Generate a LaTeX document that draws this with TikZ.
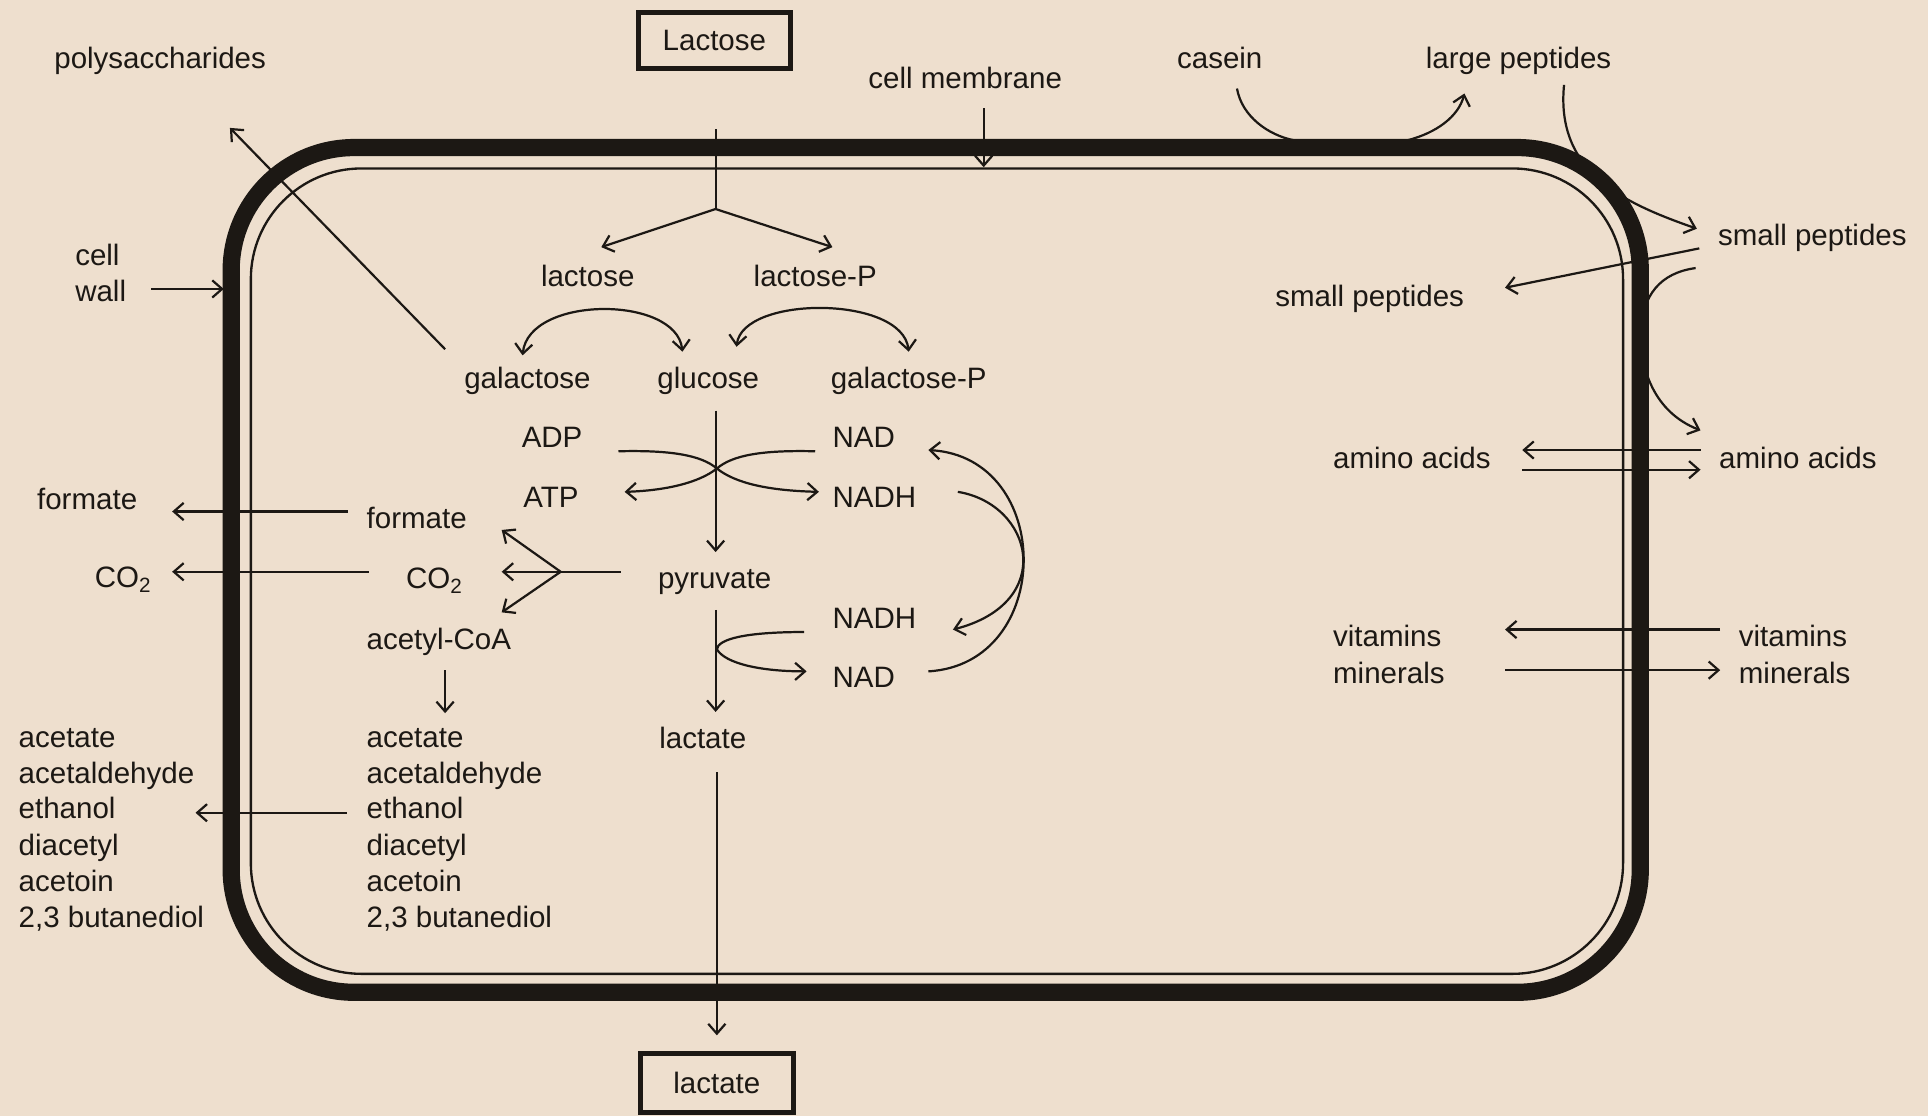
\documentclass[tikz,border=0pt]{standalone}
\usepackage{fontspec}
\setmainfont{Liberation Sans}
\usetikzlibrary{arrows.meta}
\definecolor{bg}{RGB}{238,223,206}
\definecolor{ink}{RGB}{28,24,20}
\begin{document}
\begin{tikzpicture}[x=1pt,y=-1pt,
  txt/.style={font=\fontsize{24}{28}\selectfont, inner sep=0pt, anchor=base, text=ink},
  txtl/.style={txt, anchor=base west},
  boxnode/.style={draw=ink, line width=4pt, minimum width=124pt, minimum height=46pt, inner sep=0pt, font=\fontsize{24}{28}\selectfont, text=ink},
  conn/.style={draw=ink, line width=1.8pt},
  arr/.style={conn, -{Straight Barb[length=8pt,width=14pt,line width=1.8pt]}},
  darr/.style={conn, {Straight Barb[length=8pt,width=14pt,line width=1.8pt]}-{Straight Barb[length=8pt,width=14pt,line width=1.8pt]}},
  wall/.style={draw=ink, line width=14pt, rounded corners=100pt},
  membrane/.style={draw=ink, line width=1.9pt, rounded corners=90pt}]

\fill[bg] (0,0) rectangle (1568,908);
\useasboundingbox (0,0) rectangle (1568,908);

% ---------- cell ----------
\draw[wall] (188,120) rectangle (1334,807);
\draw[membrane] (204,137) rectangle (1320,792);

% ---------- texts ----------
\node[txtl] (poly) at (44,56) {polysaccharides};
\node[boxnode] (LacBox) at (581,33) {Lactose};
\node[txt] (cmem) at (785,72) {cell membrane};
\node[txt] (casein) at (992,56) {casein};
\node[txt] (lpep) at (1235,56) {large peptides};
\node[txtl] (cell) at (61,216) {cell};
\node[txtl] (wall) at (61,245) {wall};
\node[txt] (lactose) at (478,233) {lactose};
\node[txt] (lactoseP) at (663,233) {lactose-P};
\node[txt] (galactose) at (429,316) {galactose};
\node[txt] (glucose) at (576,316) {glucose};
\node[txt] (galactoseP) at (739,316) {galactose-P};
\node[txt] (ADP) at (449,364) {ADP};
\node[txtl] (NADu) at (677,364) {NAD};
\node[txt] (ATP) at (448,413) {ATP};
\node[txtl] (NADHu) at (677,413) {NADH};
\node[txtl] (formOut) at (30,414) {formate};
\node[txtl] (formIn) at (298,430) {formate};
\node[txtl] (co2Out) at (77,478) {CO\textsubscript{2}};
\node[txtl] (co2In) at (330,479) {CO\textsubscript{2}};
\node[txtl] (pyruvate) at (535,479) {pyruvate};
\node[txtl] (acCoA) at (298,528) {acetyl-CoA};
\node[txtl] (NADHl) at (677,511) {NADH};
\node[txtl] (NADl) at (677,559) {NAD};
\node[txtl] (lacIn) at (536,609) {lactate};

\node[txtl] (o1) at (15,608) {acetate};
\node[txtl] (o2) at (15,637) {acetaldehyde};
\node[txtl] (o3) at (15,666) {ethanol};
\node[txtl] (o4) at (15,696) {diacetyl};
\node[txtl] (o5) at (15,725) {acetoin};
\node[txtl] (o6) at (15,754) {2,3 butanediol};
\node[txtl] (i1) at (298,608) {acetate};
\node[txtl] (i2) at (298,637) {acetaldehyde};
\node[txtl] (i3) at (298,666) {ethanol};
\node[txtl] (i4) at (298,696) {diacetyl};
\node[txtl] (i5) at (298,725) {acetoin};
\node[txtl] (i6) at (298,754) {2,3 butanediol};

\node[boxnode, minimum height=48pt] (LatBox) at (583,881) {lactate};

\node[txtl] (spOut) at (1397,200) {small peptides};
\node[txtl] (spIn) at (1037,249) {small peptides};
\node[txtl] (aaIn) at (1084,381) {amino acids};
\node[txtl] (aaOut) at (1398,381) {amino acids};
\node[txtl] (vitIn) at (1084,526) {vitamins};
\node[txtl] (minIn) at (1084,556) {minerals};
\node[txtl] (vitOut) at (1414,526) {vitamins};
\node[txtl] (minOut) at (1414,556) {minerals};

% ---------- connector end points ----------
\coordinate (lacTop) at (582,105);
\coordinate (lacSplit) at (582,170);
\coordinate (lacL) at (489,201);
\coordinate (lacR) at (677,201);
\coordinate (cmS) at (800,88);
\coordinate (cmE) at (800,136);
\coordinate (cwS) at (123,235);
\coordinate (cwE) at (182,235);
\coordinate (psS) at (362,284);
\coordinate (psE) at (187,104);
\coordinate (arcAa) at (425,289);
\coordinate (arcAb) at (555,286);
\coordinate (arcBa) at (599,282);
\coordinate (arcBb) at (739,286);
\coordinate (glcS) at (582,334);
\coordinate (glcE) at (582,449);
\coordinate (adpS) at (503,367);
\coordinate (xpt) at (583,381);
\coordinate (atpE) at (508,400);
\coordinate (nadS) at (663,367);
\coordinate (nadhE) at (666,400);
\coordinate (nadhU) at (779,400);
\coordinate (nadhLE) at (775,512);
\coordinate (nadLS) at (755,546);
\coordinate (nadUE) at (755,366);
\coordinate (pyrS) at (582,496);
\coordinate (pyrE) at (582,579);
\coordinate (nadhLS) at (654,514);
\coordinate (loopM) at (583,528);
\coordinate (nadLE) at (656,546);
\coordinate (latS) at (583,628);
\coordinate (latE) at (583,842);
\coordinate (pyL) at (505,465);
\coordinate (pyB) at (456,465);
\coordinate (fmE) at (408,431);
\coordinate (coE) at (408,465);
\coordinate (acE) at (408,498);
\coordinate (fmS) at (283,416);
\coordinate (fmO) at (140,416);
\coordinate (coS) at (300,465);
\coordinate (coO) at (140,465);
\coordinate (acS) at (362,545);
\coordinate (acO) at (362,580);
\coordinate (etS) at (282,661);
\coordinate (etO) at (159,661);
\coordinate (casS) at (1006,72);
\coordinate (casE) at (1052,114);
\coordinate (lpS) at (1145,114);
\coordinate (lpE) at (1191,76);
\coordinate (lpTwoS) at (1272,69);
\coordinate (spE) at (1380,186);
\coordinate (spS) at (1382,202);
\coordinate (spIE) at (1224,234);
\coordinate (spTwoS) at (1379,218);
\coordinate (spMid) at (1334,270);
\coordinate (aaE) at (1383,350);
\coordinate (aaUS) at (1383,366);
\coordinate (aaUE) at (1238,366);
\coordinate (aaLS) at (1238,382);
\coordinate (aaLE) at (1383,382);
\coordinate (vmUS) at (1399,512);
\coordinate (vmUE) at (1224,512);
\coordinate (vmLS) at (1224,545);
\coordinate (vmLE) at (1399,545);

% ---------- connectors ----------
\draw[conn] (lacTop) -- (lacSplit);
\draw[arr] (lacSplit) -- (lacL);
\draw[arr] (lacSplit) -- (lacR);
\draw[arr] (cmS) -- (cmE);
\draw[arr] (cwS) -- (cwE);
\draw[arr] (psS) -- (psE);
\draw[darr] (arcAa) .. controls (430,240) and (550,240) .. (arcAb);
\draw[darr] (arcBa) .. controls (604,240) and (734,240) .. (arcBb);
\draw[arr] (glcS) -- (glcE);
\draw[arr] (adpS) .. controls (545,366) and (570,370) .. (xpt) .. controls (568,393) and (540,399) .. (atpE);
\draw[arr] (nadS) .. controls (620,366) and (596,370) .. (xpt) .. controls (598,393) and (625,399) .. (nadhE);
\draw[arr] (nadhU) .. controls (840,410) and (860,490) .. (nadhLE);
\draw[arr] (nadLS) .. controls (858,540) and (858,372) .. (nadUE);
\draw[arr] (pyrS) -- (pyrE);
\draw[arr] (nadhLS) .. controls (605,514) and (584,520) .. (loopM) .. controls (590,540) and (620,546) .. (nadLE);
\draw[arr] (latS) -- (latE);
\draw[conn] (pyL) -- (pyB);
\draw[arr] (pyB) -- (fmE);
\draw[arr] (pyB) -- (coE);
\draw[arr] (pyB) -- (acE);
\draw[arr] (fmS) -- (fmO);
\draw[arr] (coS) -- (coO);
\draw[arr] (acS) -- (acO);
\draw[arr] (etS) -- (etO);
\draw[conn] (casS) .. controls (1010,95) and (1032,110) .. (casE);
\draw[arr] (lpS) .. controls (1168,108) and (1186,95) .. (lpE);
\draw[arr] (lpTwoS) .. controls (1265,140) and (1320,165) .. (spE);
\draw[arr] (spS) -- (spIE);
\draw[arr] (spTwoS) .. controls (1350,222) and (1336,240) .. (spMid) .. controls (1334,300) and (1345,335) .. (aaE);
\draw[arr] (aaUS) -- (aaUE);
\draw[arr] (aaLS) -- (aaLE);
\draw[arr] (vmUS) -- (vmUE);
\draw[arr] (vmLS) -- (vmLE);
\end{tikzpicture}
\end{document}
